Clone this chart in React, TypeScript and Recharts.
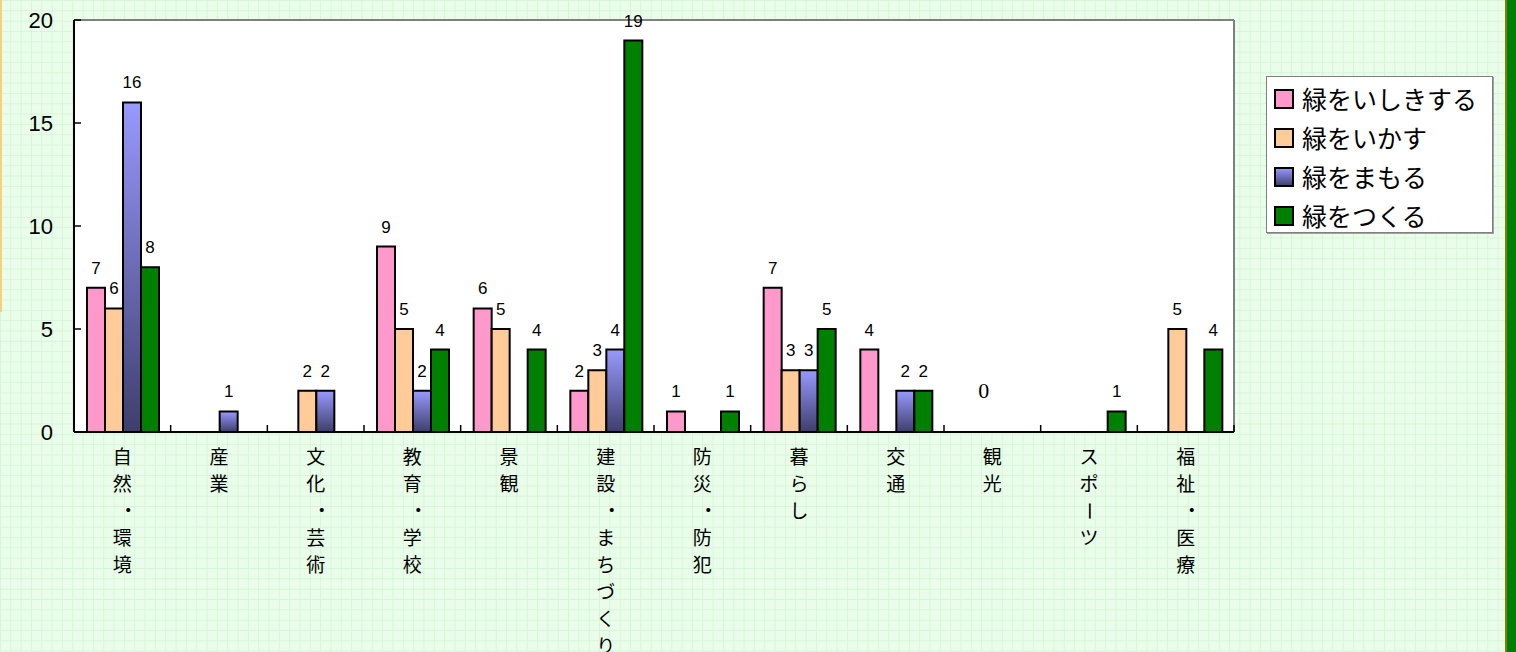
import { BarChart, Bar, XAxis, YAxis, CartesianGrid, Legend, LabelList, ReferenceDot } from 'recharts';

const categories = ['自然・環境', '産業', '文化・芸術', '教育・学校', '景観', '建設・まちづくり', '防災・防犯', '暮らし', '交通', '観光', 'スポーツ', '福祉・医療'];
const shikiValues = [7, null, null, 9, 6, 2, 1, 7, 4, null, null, null];
const ikasuValues = [6, null, 2, 5, 5, 3, null, 3, null, 0, null, 5];
const mamoruValues = [16, 1, 2, 2, null, 4, null, 3, 2, null, null, null];
const tsukuruValues = [8, null, null, 4, 4, 19, 1, 5, 2, null, 1, 4];
const yTicks = [0, 5, 10, 15, 20];

const seriesInfo = [
  { key: 'shiki', name: '緑をいしきする', fill: '#ff99cc' },
  { key: 'ikasu', name: '緑をいかす', fill: '#ffcc99' },
  { key: 'mamoru', name: '緑をまもる', fill: 'url(#mamoruGrad)' },
  { key: 'tsukuru', name: '緑をつくる', fill: '#008000' },
];

const chartData = categories.map((name, i) => ({
  name,
  shiki: shikiValues[i],
  ikasu: ikasuValues[i],
  mamoru: mamoruValues[i],
  tsukuru: tsukuruValues[i],
}));

// zero answers get a note instead of a bar
const zeroNotes = categories
  .map((name, i) => ({ name, value: ikasuValues[i] }))
  .filter((d) => d.value === 0);

const PLOT_LEFT = 74;
const PLOT_RIGHT = 1234;
const CAT_W = (PLOT_RIGHT - PLOT_LEFT) / categories.length;
const NUM_FONT = '"Liberation Sans", Arial, sans-serif';
const JP_FONT = '"Noto Sans CJK JP", "Noto Sans", sans-serif';

function CategoryTick(props: any) {
  const { x, y, payload, index } = props;
  const chars = Array.from(String(payload.value));
  const left = x - CAT_W / 2;
  return (
    <g>
      {index > 0 && <line x1={left} x2={left} y1={y} y2={y - 7} stroke="#000" strokeWidth={1.5} />}
      {index === categories.length - 1 && (
        <line x1={x + CAT_W / 2} x2={x + CAT_W / 2} y1={y} y2={y - 7} stroke="#000" strokeWidth={1.5} />
      )}
      {chars.map((c, i) => {
        const cy = y + 32 + i * 27;
        if (c === '・') {
          return (
            <text key={i} x={x + 6} y={cy} textAnchor="middle" fontSize={19} fontFamily={JP_FONT} fill="#000">
              {c}
            </text>
          );
        }
        if (c === 'ー') {
          return (
            <text key={i} x={x} y={cy} textAnchor="middle" fontSize={19} fontFamily={JP_FONT} fill="#000"
              transform={`rotate(90 ${x} ${cy - 7})`}>
              {c}
            </text>
          );
        }
        return (
          <text key={i} x={x} y={cy} textAnchor="middle" fontSize={19} fontFamily={JP_FONT} fill="#000">
            {c}
          </text>
        );
      })}
    </g>
  );
}

function ValueTick(props: any) {
  const { x, y, payload } = props;
  return (
    <g>
      <line x1={x} x2={x + 7} y1={y} y2={y} stroke="#000" strokeWidth={1.5} />
      <text x={x - 21} y={y + 8} textAnchor="end" fontSize={22} fontFamily={NUM_FONT} fill="#000">
        {payload.value}
      </text>
    </g>
  );
}

function BarValueLabel(props: any) {
  const vb = props.viewBox ?? props;
  const x = vb.x ?? props.x;
  const y = vb.y ?? props.y;
  const width = vb.width ?? props.width;
  const { value } = props;
  if (value === null || value === undefined || value === 0) return null;
  return (
    <text x={x + width / 2} y={y - 14} textAnchor="middle" fontSize={17} fontFamily={NUM_FONT} fill="#000">
      {value}
    </text>
  );
}

function ZeroNote(props: any) {
  const vb = props.viewBox ?? props;
  const cx = vb.x + (vb.width ?? 0) / 2;
  const cy = vb.y + (vb.height ?? 0) / 2;
  // sits over the second bar slot, well above the axis
  return (
    <text x={cx - CAT_W * 0.09} y={cy - 34} textAnchor="middle" fontSize={22} fontFamily='"Liberation Serif", serif' fill="#000">
      {props.value}
    </text>
  );
}

function Swatch({ fill }: { fill: string }) {
  return (
    <svg width={20} height={20} style={{ display: 'block' }}>
      <defs>
        <linearGradient id="legendGrad" x1="0" y1="0" x2="0" y2="1">
          <stop offset="0" stopColor="#9999ff" />
          <stop offset="1" stopColor="#3e3e6c" />
        </linearGradient>
      </defs>
      <rect x={1} y={1} width={18} height={18} fill={fill.startsWith('url') ? 'url(#legendGrad)' : fill} stroke="#000" strokeWidth={2} />
    </svg>
  );
}

function renderLegend() {
  return (
    <div
      style={{
        width: 227,
        height: 157,
        boxSizing: 'border-box',
        background: '#fff',
        border: '1px solid #808080',
        boxShadow: '1px 1px 0 #a0a0a0',
        padding: '2px 0 0 7px',
      }}
    >
      {seriesInfo.map((s) => (
        <div key={s.key} style={{ display: 'flex', alignItems: 'center', height: 39 }}>
          <Swatch fill={s.fill} />
          <span style={{ marginLeft: 8, fontSize: 25, fontFamily: JP_FONT, color: '#000', lineHeight: '39px' }}>
            {s.name}
          </span>
        </div>
      ))}
    </div>
  );
}

export default function App() {
  return (
    <div
      style={{
        position: 'relative',
        width: 1516,
        height: 652,
        overflow: 'hidden',
        backgroundColor: '#eafdea',
        backgroundImage:
          'linear-gradient(#d5f6d5 1px, transparent 1px), linear-gradient(90deg, #d5f6d5 1px, transparent 1px)',
        backgroundSize: '10.33px 10.33px',
      }}
    >
      <style>{'body{margin:0}'}</style>
      <div style={{ position: 'absolute', left: 0, top: 0, width: 2, height: 312, background: '#f3d27f' }} />
      <div style={{ position: 'absolute', left: 1505, top: 0, width: 2, height: 652, background: '#7f7f00' }} />
      <div style={{ position: 'absolute', left: 1507, top: 0, width: 9, height: 652, background: '#008000' }} />
      <BarChart
        width={1516}
        height={652}
        data={chartData}
        margin={{ top: 20, right: 1516 - PLOT_RIGHT, left: 0, bottom: 0 }}
        barCategoryGap={13}
        barGap={0}
      >
        <defs>
          <linearGradient id="mamoruGrad" x1="0" y1="0" x2="0" y2="1">
            <stop offset="0" stopColor="#9999ff" />
            <stop offset="1" stopColor="#3e3e6c" />
          </linearGradient>
        </defs>
        <CartesianGrid
          fill="#ffffff"
          stroke="#808080"
          strokeWidth={2}
          horizontalCoordinatesGenerator={({ offset }: any) => [offset.top]}
          verticalCoordinatesGenerator={({ offset }: any) => [offset.left + offset.width]}
        />
        <XAxis
          dataKey="name"
          height={220}
          interval={0}
          tickSize={0}
          tickMargin={0}
          tickLine={false}
          tick={<CategoryTick />}
          axisLine={{ stroke: '#000', strokeWidth: 2 }}
        />
        <YAxis
          width={PLOT_LEFT}
          domain={[0, 20]}
          ticks={yTicks}
          interval={0}
          tickSize={0}
          tickMargin={0}
          tickLine={false}
          tick={<ValueTick />}
          axisLine={{ stroke: '#000', strokeWidth: 2 }}
        />
        <Legend
          content={renderLegend}
          layout="vertical"
          align="center"
          verticalAlign="middle"
          wrapperStyle={{ left: 1266, top: 76, width: 227, height: 157 }}
        />
        {seriesInfo.map((s) => (
          <Bar
            key={s.key}
            dataKey={s.key}
            name={s.name}
            fill={s.fill}
            stroke="#000"
            strokeWidth={2}
            isAnimationActive={false}
          >
            <LabelList dataKey={s.key} content={BarValueLabel} />
          </Bar>
        ))}
        {zeroNotes.map((d) => (
          <ReferenceDot
            key={d.name}
            x={d.name}
            y={d.value}
            r={0}
            fill="none"
            stroke="none"
            ifOverflow="visible"
            label={<ZeroNote value={String(d.value)} />}
          />
        ))}
      </BarChart>
    </div>
  );
}
